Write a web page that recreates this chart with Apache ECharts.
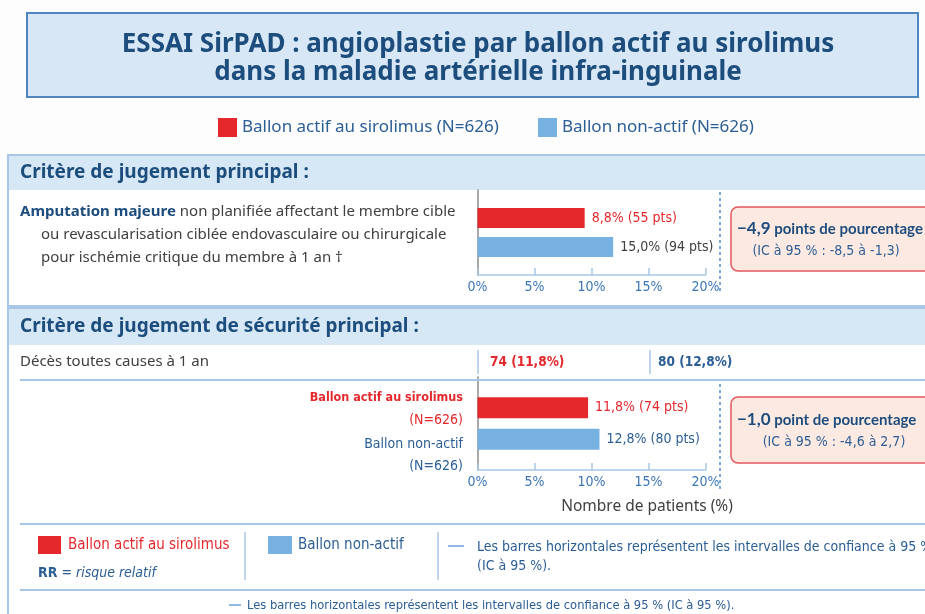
<!DOCTYPE html>
<html>
<head>
<meta charset="utf-8">
<script src="https://cdn.jsdelivr.net/npm/echarts@6/dist/echarts.min.js"></script>
<style>
  html, body { margin: 0; padding: 0; background: #fdfdfd; }
  #main { width: 925px; height: 614px; }
</style>
</head>
<body>
<div id="main"></div>
<script>
// groupes comparés
const groups = ['Ballon actif au sirolimus', 'Ballon non-actif']
const groupN = [626, 626]
const groupColors = ['#e4282c', '#76b1e2']

// axe des x (%)
const xTicks = [0, 5, 10, 15, 20]

// longueurs des barres telles que dessinées sur la figure
const primaryBars = [9.4, 11.9]
const primaryLabels = ['8,8% (55 pts)', '15,0% (94 pts)']
const safetyBars = [9.7, 10.7]
const safetyLabels = ['11,8% (74 pts)', '12,8% (80 pts)']

// décès toutes causes
const deaths = ['74 (11,8%)', '80 (12,8%)']

// différences absolues
const primaryDiff = ['\u22124,9', 'points de pourcentage', '(IC à 95 % : -8,5 à -1,3)']
const safetyDiff = ['\u22121,0', 'point de pourcentage', '(IC à 95 % : -4,6 à 2,7)']

const darkBlue = '#1d4d7d'
const textBlue = '#2b5e94'
const lineBlue = '#a8c7e6'
const gray = '#404040'
const narrow = '"DejaVu Sans Condensed", "Liberation Sans", sans-serif'
const sans = '"Noto Sans", sans-serif'
const lato = 'Lato, sans-serif'

const names = groups.map((g, i) => g + ' (N=' + groupN[i] + ')')

function txt(x, y, text, opt) {
  opt = opt || {}
  return {
    type: 'text', x: x, y: y, z: 10,
    style: {
      text: text,
      fill: opt.color || gray,
      font: (opt.style || '') + ' ' + (opt.weight || 'normal') + ' ' + (opt.size || 15) + 'px ' + (opt.family || sans),
      textAlign: opt.align || 'left',
      textVerticalAlign: 'middle',
      rich: opt.rich
    }
  }
}
function line(x1, y1, x2, y2, color, width, dash) {
  return {
    type: 'line', z: 5,
    shape: { x1: x1, y1: y1, x2: x2, y2: y2 },
    style: { stroke: color, lineWidth: width || 1, lineDash: dash }
  }
}
function rect(x, y, w, h, fill, stroke, lw, r, z) {
  return {
    type: 'rect', z: z == null ? -1 : z,
    shape: { x: x, y: y, width: w, height: h, r: r || 0 },
    style: { fill: fill, stroke: stroke || null, lineWidth: lw || 0 }
  }
}

function valueAxis(gridIndex) {
  return {
    type: 'value', gridIndex: gridIndex, min: xTicks[0], max: xTicks[xTicks.length - 1], interval: 5,
    axisLine: { show: true, lineStyle: { color: lineBlue, width: 1.5 } },
    axisTick: { show: true, inside: true, length: 7, lineStyle: { color: lineBlue, width: 1.5 } },
    axisLabel: { formatter: '{value}%', color: '#3b76b5', fontSize: 14, fontFamily: narrow, margin: 5 },
    splitLine: { show: false }
  }
}
function catAxis(gridIndex) {
  return {
    type: 'category', gridIndex: gridIndex, data: ['g'],
    axisLine: { show: true, lineStyle: { color: '#8d8d8d', width: 1.5 } },
    axisTick: { show: false }, axisLabel: { show: false }
  }
}
function barSeries(gridIndex, values, labels, labelColors, barWidth, gap) {
  return values.map((v, i) => ({
    name: names[i],
    type: 'bar',
    xAxisIndex: gridIndex, yAxisIndex: gridIndex,
    data: [v],
    barWidth: barWidth,
    barGap: gap,
    itemStyle: { color: groupColors[i] },
    label: {
      show: true, position: 'right', distance: 7,
      formatter: labels[i], color: labelColors[i], fontSize: 14, fontFamily: narrow
    }
  }))
}

const graphics = [
  // bandeau titre
  rect(27, 13, 891, 84, '#d7e7f6', '#4f86c0', 2),
  txt(478, 45, 'ESSAI SirPAD : angioplastie par ballon actif au sirolimus', { color: darkBlue, weight: 'bold', size: 26, align: 'center' }),
  txt(478, 73, 'dans la maladie artérielle infra-inguinale', { color: darkBlue, weight: 'bold', size: 26, align: 'center' }),

  // section 1
  rect(8, 155, 940, 151, '#ffffff', lineBlue, 2),
  rect(9, 156, 940, 34, '#d6e7f6'),
  txt(20, 173, 'Critère de jugement principal :', { color: darkBlue, weight: 'bold', size: 19 }),
  txt(20, 212, '{b|Amputation majeure} non planifiée affectant le membre cible', {
    size: 15,
    rich: { b: { fill: darkBlue, fontWeight: 'bold', fontSize: 15, fontFamily: sans } }
  }),
  txt(41, 235, 'ou revascularisation ciblée endovasculaire ou chirurgicale', { size: 15 }),
  txt(41, 258, 'pour ischémie critique du membre à 1 an \u2020', { size: 15 }),
  line(720, 192, 720, 292, '#4d8fd1', 1.5, [3, 3]),
  rect(731, 207, 220, 64, '#fce9e2', '#e2575b', 1.5, 7, 0),
  txt(737, 229, '{a|' + primaryDiff[0] + '} ' + primaryDiff[1], {
    color: darkBlue, weight: 'bold', size: 15, family: lato,
    rich: { a: { fill: darkBlue, fontWeight: 'bold', fontSize: 17, fontFamily: lato } }
  }),
  txt(826, 251, primaryDiff[2], { color: textBlue, size: 14, family: narrow, align: 'center' }),

  // section 2
  rect(8, 308, 940, 330, '#ffffff', lineBlue, 2),
  rect(9, 309, 940, 36, '#d6e7f6'),
  txt(20, 327, 'Critère de jugement de sécurité principal :', { color: darkBlue, weight: 'bold', size: 19 }),
  txt(20, 362, 'Décès toutes causes à 1 an', { size: 15 }),
  line(478, 350, 478, 374, lineBlue, 1.5),
  line(650, 350, 650, 374, lineBlue, 1.5),
  txt(490, 362, deaths[0], { color: groupColors[0], weight: 'bold', size: 13.5, family: narrow }),
  txt(658, 362, deaths[1], { color: textBlue, weight: 'bold', size: 13.5, family: narrow }),
  line(20, 380, 940, 380, lineBlue, 2),
  txt(463, 398, groups[0], { color: groupColors[0], weight: 'bold', size: 12.5, family: narrow, align: 'right' }),
  txt(463, 420, '(N=' + groupN[0] + ')', { color: groupColors[0], size: 14, family: narrow, align: 'right' }),
  txt(463, 444, groups[1], { color: textBlue, size: 14, family: narrow, align: 'right' }),
  txt(463, 466, '(N=' + groupN[1] + ')', { color: textBlue, size: 14, family: narrow, align: 'right' }),
  line(720, 384, 720, 490, '#4d8fd1', 1.5, [3, 3]),
  rect(731, 397, 220, 66, '#fce9e2', '#e2575b', 1.5, 7, 0),
  txt(737, 420, '{a|' + safetyDiff[0] + '} ' + safetyDiff[1], {
    color: darkBlue, weight: 'bold', size: 15, family: lato,
    rich: { a: { fill: darkBlue, fontWeight: 'bold', fontSize: 17, fontFamily: lato } }
  }),
  txt(834, 442, safetyDiff[2], { color: textBlue, size: 14, family: narrow, align: 'center' }),
  txt(647, 507, 'Nombre de patients (%)', { size: 15.5, align: 'center' }),

  // légende du bas
  line(20, 524, 940, 524, lineBlue, 2),
  rect(38, 536, 23, 18, groupColors[0], null, 0, 0, 0),
  txt(68, 545, groups[0], { color: groupColors[0], size: 15, family: narrow }),
  txt(38, 573, '{r|RR} = {i|risque relatif}', {
    color: textBlue, size: 14, family: narrow,
    rich: {
      r: { fill: textBlue, fontWeight: 'bold', fontSize: 14, fontFamily: narrow },
      i: { fill: textBlue, fontStyle: 'italic', fontSize: 14, fontFamily: narrow }
    }
  }),
  line(245, 532, 245, 580, lineBlue, 1.5),
  rect(268, 536, 24, 18, groupColors[1], null, 0, 0, 0),
  txt(298, 545, groups[1], { color: textBlue, size: 15, family: narrow }),
  line(438, 532, 438, 580, lineBlue, 1.5),
  line(448, 546, 464, 546, '#6aa0d8', 1.5),
  txt(477, 547, 'Les barres horizontales représentent les intervalles de confiance à 95 %', { color: textBlue, size: 14, family: narrow }),
  txt(477, 566, '(IC à 95 %).', { color: textBlue, size: 14, family: narrow }),
  line(20, 590, 940, 590, lineBlue, 2),
  line(229, 605, 241, 605, '#6aa0d8', 1.5),
  txt(247, 606, 'Les barres horizontales représentent les intervalles de confiance à 95 % (IC à 95 %).', { color: textBlue, size: 12.8, family: narrow })
]

const myChart = echarts.init(document.getElementById('main'))
const option = {
  animation: false,
  legend: [
    {
      left: 213, top: 113, data: [names[0]], icon: 'rect', itemWidth: 19, itemHeight: 19, selectedMode: false,
      textStyle: { color: textBlue, fontSize: 17, fontFamily: sans }
    },
    {
      left: 533, top: 113, data: [names[1]], icon: 'rect', itemWidth: 19, itemHeight: 19, selectedMode: false,
      textStyle: { color: textBlue, fontSize: 17, fontFamily: sans }
    }
  ],
  grid: [
    { left: 477.5, width: 228, top: 190, height: 85 },
    { left: 477.5, width: 228, top: 377, height: 93 }
  ],
  xAxis: [valueAxis(0), valueAxis(1)],
  yAxis: [catAxis(0), catAxis(1)],
  series: barSeries(0, primaryBars, primaryLabels, [groupColors[0], gray], 20, '45%')
    .concat(barSeries(1, safetyBars, safetyLabels, [groupColors[0], textBlue], 21, '50%')),
  graphic: graphics
}
myChart.setOption(option)
</script>
</body>
</html>
